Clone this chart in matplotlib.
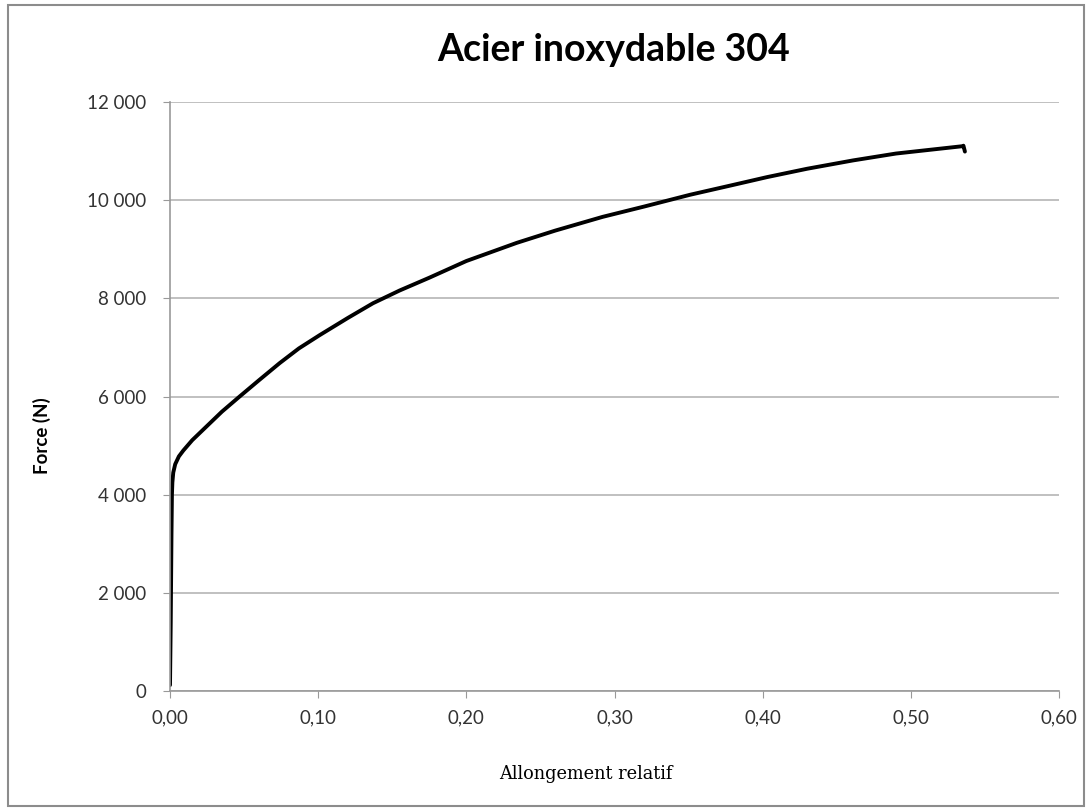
import matplotlib.pyplot as plt
from matplotlib.patches import Rectangle

# Allongement relatif / force (N)
allongement = [0.0, 0.0005, 0.0010, 0.0013, 0.0016, 0.0022, 0.0035, 0.0060, 0.0090,
               0.015, 0.025, 0.035, 0.047, 0.060, 0.074, 0.087, 0.101, 0.120, 0.137,
               0.155, 0.175, 0.200, 0.234, 0.260, 0.292, 0.320, 0.351, 0.380, 0.403,
               0.430, 0.461, 0.490, 0.520, 0.535, 0.5355, 0.5365]
force = [120, 1400, 3200, 4000, 4250, 4450, 4620, 4780, 4900,
         5110, 5400, 5690, 6000, 6330, 6680, 6980, 7250, 7600, 7900,
         8160, 8420, 8760, 9130, 9380, 9660, 9870, 10110, 10310, 10470,
         10640, 10810, 10950, 11050, 11100, 11110, 10990]

x_ticks = [0.0, 0.1, 0.2, 0.3, 0.4, 0.5, 0.6]
x_labels = ['0,00', '0,10', '0,20', '0,30', '0,40', '0,50', '0,60']
y_ticks = [0, 2000, 4000, 6000, 8000, 10000, 12000]
y_labels = ['0', '2 000', '4 000', '6 000', '8 000', '10 000', '12 000']

plt.rcParams['font.family'] = ['Lato', 'DejaVu Sans']

fig = plt.figure(figsize=(10.91, 8.11), dpi=100)
ax = fig.add_axes([170 / 1091, 1 - 691 / 811, (1059 - 170) / 1091, (691 - 102) / 811])

ax.plot(allongement, force, color='black', linewidth=2.8, solid_capstyle='round')

ax.set_xlim(0, 0.6)
ax.set_ylim(0, 12000)
ax.set_xticks(x_ticks)
ax.set_xticklabels(x_labels)
ax.set_yticks(y_ticks)
ax.set_yticklabels(y_labels)
ax.tick_params(axis='both', colors='#999999', labelcolor='#333333', labelsize=13.5,
               length=5, direction='out')
ax.tick_params(axis='x', pad=8)
ax.tick_params(axis='y', pad=12)

ax.grid(axis='y', color='#b5b5b5', linewidth=1.2)
ax.set_axisbelow(True)
for s in ['top', 'right']:
    ax.spines[s].set_visible(False)
for s in ['left', 'bottom']:
    ax.spines[s].set_color('#999999')
    ax.spines[s].set_linewidth(1.2)

fig.text(614 / 1091, 1 - 50 / 811, 'Acier inoxydable 304', ha='center', va='center',
         fontsize=27, fontweight='bold')
fig.text(42 / 1091, 1 - 436 / 811, 'Force (N)', rotation=90, ha='center', va='center',
         fontsize=13.5, fontweight='bold')
fig.text(586 / 1091, 1 - 774 / 811, 'Allongement relatif', ha='center', va='center',
         fontsize=12.8, family='DejaVu Serif')

fig.patches.append(Rectangle((8 / 1091, 1 - 806 / 811), 1076 / 1091, 801 / 811,
                             transform=fig.transFigure, fill=False,
                             edgecolor='#8c8c8c', linewidth=1.5))

plt.savefig('out.png', dpi=100)
